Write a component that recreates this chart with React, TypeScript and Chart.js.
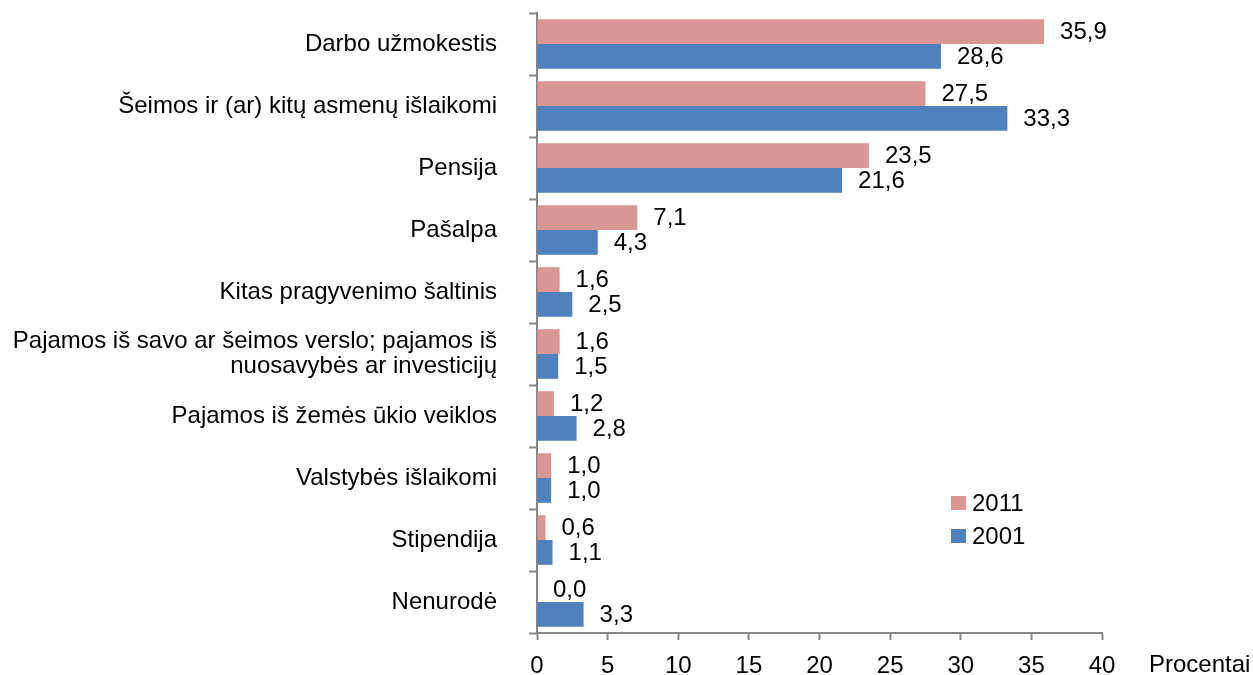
import React, { useEffect, useRef } from "react";
import { Chart, registerables } from "chart.js";

Chart.register(...registerables);

const categories: (string | string[])[] = [
  "Darbo užmokestis",
  "Šeimos ir (ar) kitų asmenų išlaikomi",
  "Pensija",
  "Pašalpa",
  "Kitas pragyvenimo šaltinis",
  ["Pajamos iš savo ar šeimos verslo; pajamos iš", "nuosavybės ar investicijų"],
  "Pajamos iš žemės ūkio veiklos",
  "Valstybės išlaikomi",
  "Stipendija",
  "Nenurodė",
];
const values2011 = [35.9, 27.5, 23.5, 7.1, 1.6, 1.6, 1.2, 1.0, 0.6, 0.0];
const values2001 = [28.6, 33.3, 21.6, 4.3, 2.5, 1.5, 2.8, 1.0, 1.1, 3.3];
const seriesNames = ["2011", "2001"];
const xTicks = [0, 5, 10, 15, 20, 25, 30, 35, 40];
const axisTitle = "Procentai";

const PINK = "#D99694";
const BLUE = "#4F81BD";
const AXIS = "#868686";
const FONT = "'Liberation Sans', Arial, sans-serif";
const FS = 24;

const fmt = (v: number) => v.toFixed(1).replace(".", ",");

const extrasPlugin = {
  id: "extras",
  afterDatasetsDraw(chart: any) {
    const ctx = chart.ctx;
    ctx.save();
    ctx.font = `${FS}px ${FONT}`;
    ctx.fillStyle = "#000";
    ctx.textAlign = "left";
    ctx.textBaseline = "middle";
    chart.data.datasets.forEach((ds: any, di: number) => {
      const meta = chart.getDatasetMeta(di);
      meta.data.forEach((bar: any, i: number) => {
        ctx.fillText(fmt(ds.data[i]), bar.x + 16, bar.y + 1);
      });
    });
    // legend
    const colors = [PINK, BLUE];
    const lx = 951;
    const ly = [496, 529];
    seriesNames.forEach((n, i) => {
      ctx.fillStyle = colors[i];
      ctx.fillRect(lx, ly[i], 15, 14);
      ctx.fillStyle = "#000";
      ctx.fillText(n, lx + 21, ly[i] + 8);
    });
    // axis title
    const xs = chart.scales.x;
    ctx.textBaseline = "top";
    ctx.fillText(axisTitle, 1149, xs.top + 8 + 12);
    ctx.restore();
  },
};

export default function App() {
  const ref = useRef<HTMLCanvasElement | null>(null);
  useEffect(() => {
    if (!ref.current) return;
    const chart = new Chart(ref.current, {
      type: "bar",
      data: {
        labels: categories,
        datasets: [
          { label: seriesNames[0], data: values2011, backgroundColor: PINK },
          { label: seriesNames[1], data: values2001, backgroundColor: BLUE },
        ],
      },
      options: {
        indexAxis: "y",
        animation: false,
        responsive: true,
        maintainAspectRatio: false,
        layout: { padding: { top: 13, right: 151, left: 0, bottom: 0 } },
        datasets: { bar: { categoryPercentage: 0.8, barPercentage: 1.0 } },
        plugins: { legend: { display: false }, tooltip: { enabled: false } },
        scales: {
          x: {
            min: 0,
            max: 40,
            afterBuildTicks: (s: any) => {
              s.ticks = xTicks.map((v) => ({ value: v }));
            },
            afterFit: (s: any) => {
              s.height = 42;
              s.paddingLeft = 0;
              s.paddingRight = 0;
            },
            grid: {
              drawOnChartArea: false,
              drawTicks: true,
              tickLength: 7,
              tickColor: AXIS,
              tickWidth: 2,
            },
            border: { color: AXIS, width: 2 },
            ticks: {
              color: "#000",
              font: { family: FONT, size: FS },
              padding: 12,
              maxRotation: 0,
            },
          },
          y: {
            afterFit: (s: any) => {
              s.width = 537;
              s.paddingTop = 0;
              s.paddingBottom = 0;
            },
            grid: {
              offset: true,
              drawOnChartArea: false,
              drawTicks: true,
              tickLength: 8,
              tickColor: AXIS,
              tickWidth: 2,
            },
            border: { color: AXIS, width: 2 },
            ticks: {
              color: "#000",
              font: { family: FONT, size: FS, lineHeight: 1.05 },
              padding: 32,
              autoSkip: false,
            },
          },
        },
      },
      plugins: [extrasPlugin],
    } as any);
    return () => chart.destroy();
  }, []);
  return (
    <div style={{ position: "fixed", left: 0, top: 0, width: 1253, height: 675, background: "#fff" }}>
      <canvas ref={ref} />
    </div>
  );
}
